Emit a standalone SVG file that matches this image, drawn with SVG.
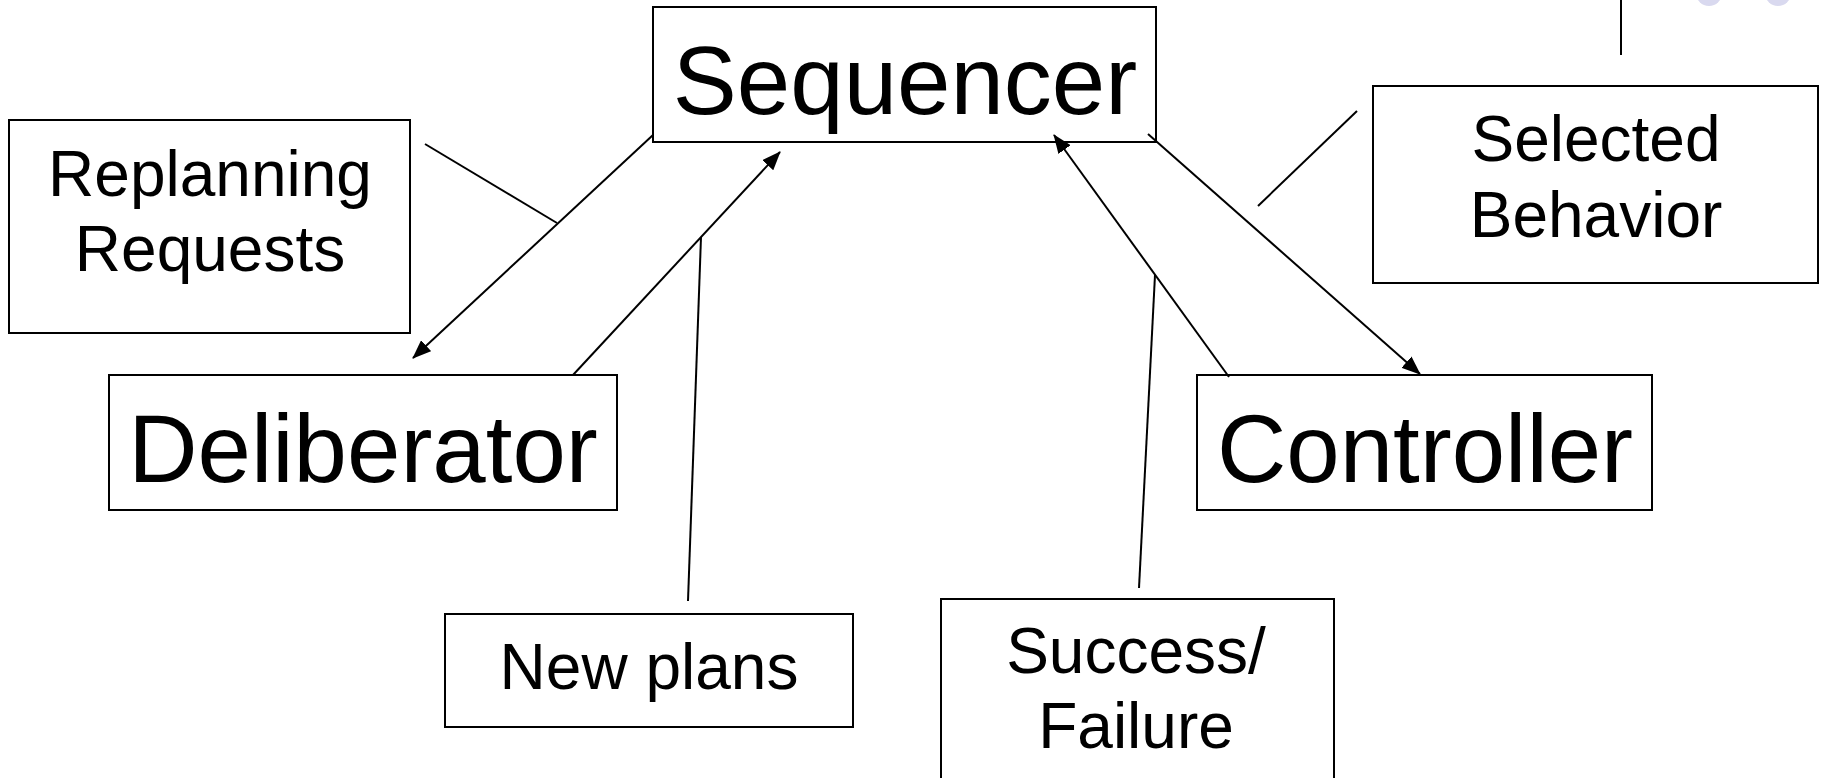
<svg xmlns="http://www.w3.org/2000/svg" width="1825" height="778" viewBox="0 0 1825 778">
<style>
.box{fill:#fff;stroke:#000;stroke-width:2}
.t{font-family:"Liberation Sans",Arial,sans-serif;fill:#000;text-anchor:middle}
.big{font-size:96px}
.sm{font-size:64px}
.ln{stroke:#000;stroke-width:2;fill:none}
</style>
<defs>
<marker id="ah" markerWidth="19" markerHeight="15" refX="18" refY="7.5" orient="auto" markerUnits="userSpaceOnUse">
<path d="M0,0 L19,7.5 L0,15 Z" fill="#000"/>
</marker>
</defs>
<rect width="1825" height="778" fill="#fff"/>
<g id="decor">
<circle cx="1709" cy="-7" r="13" fill="#d9d9ef"/>
<circle cx="1778" cy="-7" r="13" fill="#d9d9ef"/>
<line x1="1621" y1="0" x2="1621" y2="55" class="ln"/>
</g>
<g id="sequencer">
<rect class="box" x="653" y="7" width="503" height="135"/>
<text class="t big" x="905" y="114">Sequencer</text>
</g>
<g id="deliberator">
<rect class="box" x="109" y="375" width="508" height="135"/>
<text class="t big" x="363" y="482">Deliberator</text>
</g>
<g id="controller">
<rect class="box" x="1197" y="375" width="455" height="135"/>
<text class="t big" x="1425" y="482">Controller</text>
</g>
<g id="replanning">
<rect class="box" x="9" y="120" width="401" height="213"/>
<text class="t sm" x="210" y="196">Replanning</text>
<text class="t sm" x="210" y="271">Requests</text>
</g>
<g id="selected">
<rect class="box" x="1373" y="86" width="445" height="197"/>
<text class="t sm" x="1596" y="161">Selected</text>
<text class="t sm" x="1596" y="237">Behavior</text>
</g>
<g id="newplans">
<rect class="box" x="445" y="614" width="408" height="113"/>
<text class="t sm" x="649" y="689">New plans</text>
</g>
<g id="success">
<rect class="box" x="941" y="599" width="393" height="190"/>
<text class="t sm" x="1136" y="673">Success/</text>
<text class="t sm" x="1136" y="748">Failure</text>
</g>
<g id="connectors">
<line class="ln" x1="653" y1="135" x2="413" y2="358" marker-end="url(#ah)"/>
<line class="ln" x1="573" y1="375" x2="780" y2="152" marker-end="url(#ah)"/>
<line class="ln" x1="1229" y1="377" x2="1054" y2="135" marker-end="url(#ah)"/>
<line class="ln" x1="1148" y1="134" x2="1420" y2="374" marker-end="url(#ah)"/>
<line class="ln" x1="425" y1="144" x2="557" y2="223"/>
<line class="ln" x1="701" y1="237" x2="688" y2="601"/>
<line class="ln" x1="1155" y1="275" x2="1139" y2="588"/>
<line class="ln" x1="1357" y1="111" x2="1258" y2="206"/>
</g>
</svg>
